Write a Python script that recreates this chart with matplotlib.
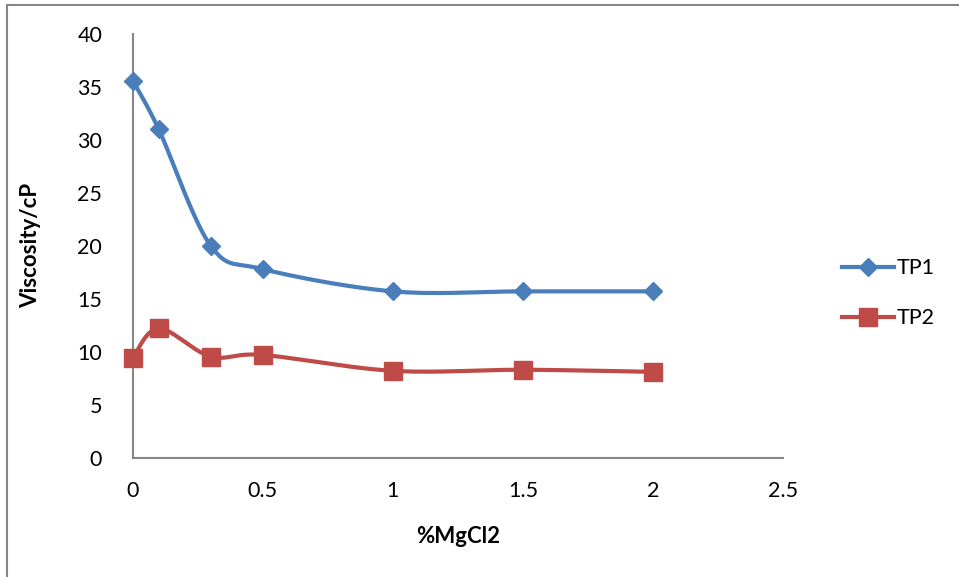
import numpy as np
import matplotlib
matplotlib.use("Agg")
from matplotlib import pyplot as plt
from matplotlib.lines import Line2D
from matplotlib.patches import Rectangle

# data
mgcl2 = [0, 0.1, 0.3, 0.5, 1, 1.5, 2]
tp1 = [35.6, 31.0, 20.0, 17.8, 15.7, 15.7, 15.7]
tp2 = [9.4, 12.2, 9.55, 9.7, 8.2, 8.3, 8.1]
x_ticks = [0, 0.5, 1, 1.5, 2, 2.5]
x_tick_labels = ['0', '0.5', '1', '1.5', '2', '2.5']
y_ticks = [0, 5, 10, 15, 20, 25, 30, 35, 40]

blue = '#4A7EBB'
red = '#BE4B48'

plt.rcParams['font.family'] = ['Lato', 'DejaVu Sans']


def smooth(xs, ys, n=40):
    # excel style smoothed line: bezier through points, catmull-rom handles
    p = np.column_stack([xs, ys]).astype(float)
    out = []
    for i in range(len(p) - 1):
        p0 = p[i - 1] if i > 0 else p[i]
        p3 = p[i + 2] if i + 2 < len(p) else p[i + 1]
        c1 = p[i] + (p[i + 1] - p0) / 6
        c2 = p[i + 1] - (p3 - p[i]) / 6
        t = np.linspace(0, 1, n)[:, None]
        seg = ((1 - t) ** 3) * p[i] + 3 * ((1 - t) ** 2) * t * c1 + 3 * (1 - t) * t ** 2 * c2 + t ** 3 * p[i + 1]
        out.append(seg if i == 0 else seg[1:])
    out = np.vstack(out)
    return out[:, 0], out[:, 1]


fig = plt.figure(figsize=(9.59, 5.77), dpi=100)
ax = fig.add_axes([0.1384, 0.2068, 0.6784, 0.7343])

for ys, col, mk, ms in [(tp1, blue, 'D', 9), (tp2, red, 's', 13)]:
    sx, sy = smooth(mgcl2, ys)
    ax.plot(sx, sy, color=col, lw=3, solid_capstyle='round', zorder=2, clip_on=False)
    ax.plot(mgcl2, ys, ls='none', marker=mk, ms=ms, color=col, zorder=3, clip_on=False)

ax.set_xlim(0, 2.5)
ax.set_ylim(0, 40)
ax.set_xticks(x_ticks)
ax.set_xticklabels(x_tick_labels)
ax.set_yticks(y_ticks)
ax.tick_params(length=0, labelsize=15.5)
ax.tick_params(axis='x', pad=17)
ax.tick_params(axis='y', pad=22)
for s in ['top', 'right']:
    ax.spines[s].set_visible(False)
for s in ['left', 'bottom']:
    ax.spines[s].set_color('#868686')
    ax.spines[s].set_linewidth(1.5)

ax.set_xlabel('%MgCl2', fontsize=16, fontweight='bold', labelpad=18)
ax.set_ylabel('Viscosity/cP', fontsize=16, fontweight='bold', labelpad=26)

handles = [Line2D([], [], color=blue, lw=3, marker='D', ms=9),
           Line2D([], [], color=red, lw=3, marker='s', ms=13)]
fig.legend(handles, ['TP1', 'TP2'], loc='center left', bbox_to_anchor=(0.858, 0.492),
           frameon=False, fontsize=15.5, handlelength=2.4, handletextpad=0.15, labelspacing=1.4)

# chart border (only top and left visible in the crop)
fig.add_artist(Rectangle((7 / 959, -0.1), 1.2, 1 - 5 / 577 + 0.1, transform=fig.transFigure,
                         fill=False, ec='#868686', lw=1.5))

fig.savefig('out.png', dpi=100)
